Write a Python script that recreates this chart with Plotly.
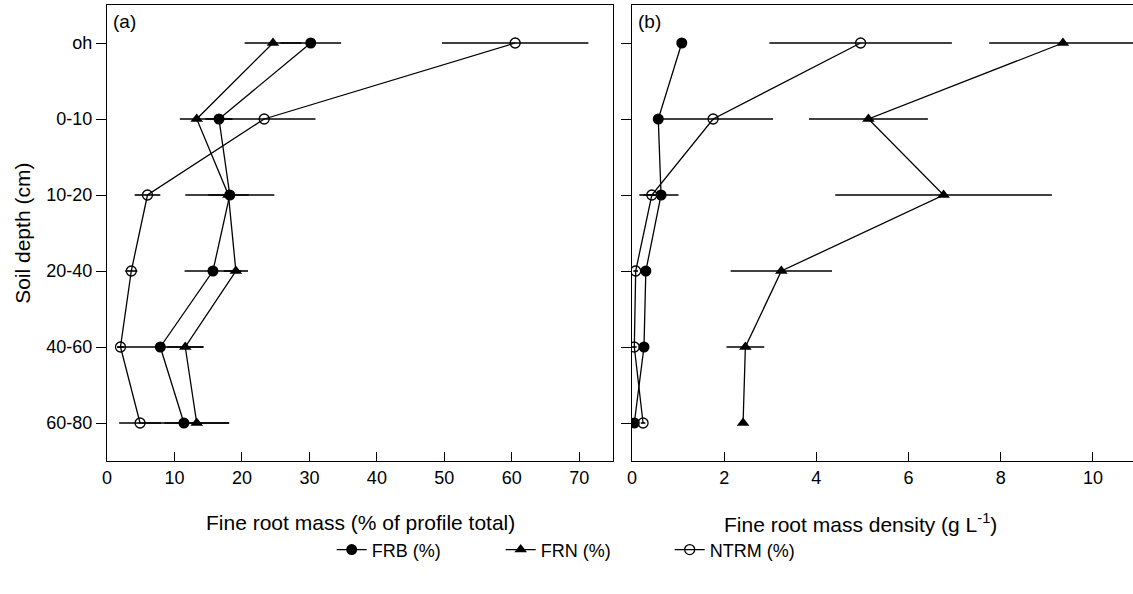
import plotly.graph_objects as go

depths = ["oh", "0-10", "10-20", "20-40", "40-60", "60-80"]

# Panel (a): fine root mass, % of profile total
frb_pct = [30.2, 16.6, 18.2, 15.7, 7.9, 11.4]
frb_pct_err = [4.5, 2.0, 6.6, 4.2, 6.4, 6.7]
frn_pct = [24.6, 13.3, 18.0, 19.1, 11.6, 13.3]
frn_pct_err = [4.2, 2.5, 3.0, 1.8, 2.7, 4.8]
ntrm_pct = [60.5, 23.3, 6.0, 3.6, 2.0, 4.9]
ntrm_pct_err = [10.85, 7.6, 1.9, 0.9, 0.5, 3.1]

# Panel (b): fine root mass density, g L-1
frb_dens = [1.08, 0.57, 0.63, 0.30, 0.26, 0.05]
frb_dens_err = [0.0, 0.1, 0.38, 0.1, 0.1, 0.05]
frn_dens = [9.35, 5.13, 6.76, 3.24, 2.46, 2.41]
frn_dens_err = [1.6, 1.29, 2.35, 1.1, 0.41, 0.0]
ntrm_dens = [4.96, 1.76, 0.43, 0.08, 0.05, 0.24]
ntrm_dens_err = [1.98, 1.3, 0.27, 0.05, 0.05, 0.05]

series = [
    ("FRB (%)", dict(symbol="circle", color="black", size=11), frb_pct, frb_pct_err, frb_dens, frb_dens_err),
    ("FRN (%)", dict(symbol="triangle-up", color="black", size=11), frn_pct, frn_pct_err, frn_dens, frn_dens_err),
    ("NTRM (%)", dict(symbol="circle-open", color="black", size=10, line=dict(width=1.3, color="black")), ntrm_pct, ntrm_pct_err, ntrm_dens, ntrm_dens_err),
]

fig = go.Figure()
for name, mk, xa, ea, xb, eb in series:
    fig.add_trace(go.Scatter(
        x=xa, y=depths, name=name, mode="lines+markers",
        line=dict(color="black", width=1.3), marker=mk,
        error_x=dict(type="data", array=ea, color="black", thickness=1.6, width=0),
        xaxis="x", yaxis="y", showlegend=True,
    ))
for name, mk, xa, ea, xb, eb in series:
    fig.add_trace(go.Scatter(
        x=xb, y=depths, name=name, mode="lines+markers",
        line=dict(color="black", width=1.3), marker=mk,
        error_x=dict(type="data", array=eb, color="black", thickness=1.6, width=0),
        xaxis="x2", yaxis="y2", showlegend=False,
    ))

FAM = "Liberation Sans, Arial, sans-serif"
tick_font = dict(family=FAM, size=18, color="black")
title_font = dict(family=FAM, size=21, color="black")
legend_font = dict(family=FAM, size=18, color="black")
panel_font = dict(family=FAM, size=19, color="black")

axis_common = dict(showgrid=False, zeroline=False, linecolor="black", linewidth=1.3,
                   tickcolor="black", tickfont=tick_font)

fig.update_layout(
    width=1133, height=594,
    margin=dict(l=107, r=0, t=5, b=133),
    plot_bgcolor="white", paper_bgcolor="white",
    font=tick_font,
    xaxis=dict(domain=[0, 0.4932], range=[0, 75], tickvals=[0, 10, 20, 30, 40, 50, 60, 70],
               ticks="inside", ticklen=9, showline=True, mirror=True, anchor="y", **axis_common),
    yaxis=dict(domain=[0, 1], type="category", categoryorder="array", categoryarray=depths,
               range=[5.5, -0.5], ticks="outside", ticklen=10, showline=True, mirror=True,
               anchor="x", **axis_common),
    xaxis2=dict(domain=[0.5117, 1], range=[0, 10.87], tickvals=[0, 2, 4, 6, 8, 10],
                ticks="inside", ticklen=9, showline=True, mirror=True, anchor="y2", **axis_common),
    yaxis2=dict(domain=[0, 1], type="category", categoryorder="array", categoryarray=depths,
                range=[5.5, -0.5], ticks="outside", ticklen=10, showline=True, mirror=False,
                showticklabels=False, anchor="x2", **axis_common),
    legend=dict(orientation="h", x=0.219, xanchor="left", y=-0.195, yanchor="middle",
                font=legend_font, entrywidth=124, entrywidthmode="pixels", bgcolor="rgba(0,0,0,0)"),
    showlegend=True,
)

fig.add_annotation(text="(a)", xref="paper", yref="paper", x=0.004, y=0.992,
                   xanchor="left", yanchor="top", showarrow=False, font=panel_font)
fig.add_annotation(text="(b)", xref="paper", yref="paper", x=0.5155, y=0.992,
                   xanchor="left", yanchor="top", showarrow=False, font=panel_font)
fig.add_annotation(text="Fine root mass (% of profile total)", xref="paper", yref="paper",
                   x=0.2466, y=-0.135, xanchor="center", yanchor="middle", showarrow=False, font=title_font)
fig.add_annotation(text="Fine root mass density (g L<sup>-1</sup>)", xref="paper", yref="paper",
                   x=0.734, y=-0.135, xanchor="center", yanchor="middle", showarrow=False, font=title_font)
fig.add_annotation(text="Soil depth (cm)", xref="paper", yref="paper", x=-0.083, y=0.5,
                   xanchor="center", yanchor="middle", textangle=-90, showarrow=False, font=title_font)

fig.write_html("out.html")
